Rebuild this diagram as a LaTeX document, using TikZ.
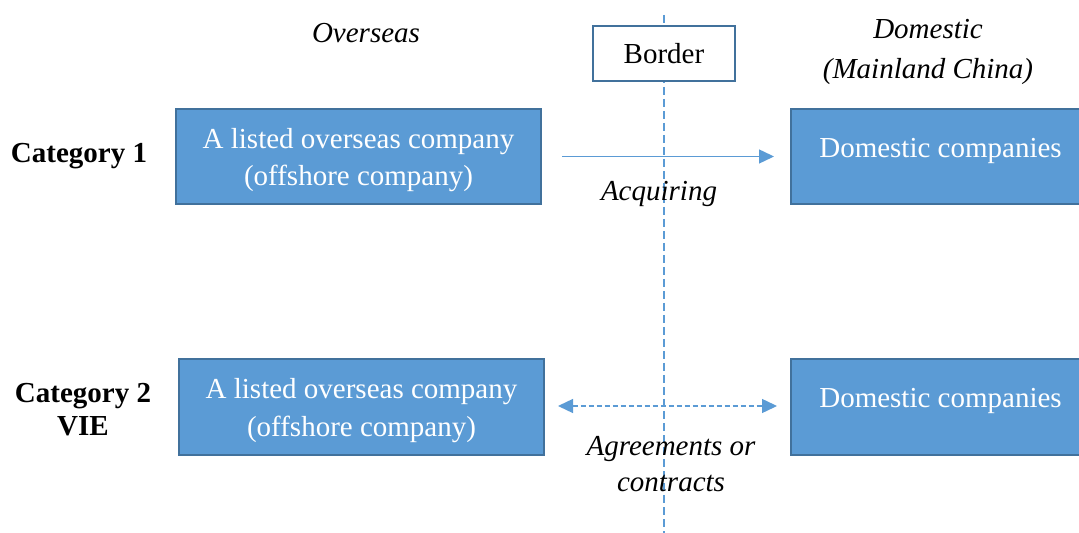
\documentclass[tikz,border=0pt]{standalone}
\usepackage{fontspec}
\setmainfont{Liberation Serif}
\usetikzlibrary{positioning, arrows.meta}
\definecolor{vieblue}{RGB}{91,155,213}
\definecolor{vieedge}{RGB}{65,113,156}
\tikzset{
    companybox/.style={rectangle, draw=vieedge, fill=vieblue, line width=1pt, text=white, align=center, font=\fontsize{14.5pt}{18.5pt}\selectfont, minimum width=182.5pt, minimum height=47.5pt, inner sep=0pt, text height=29pt, text depth=0pt},
    domesticbox/.style={companybox, minimum width=149.5pt, text height=10pt, text depth=9pt},
    borderbox/.style={rectangle, draw=vieedge, fill=white, line width=0.6pt, minimum width=71pt, minimum height=27.5pt, font=\fontsize{14.5pt}{18.5pt}\selectfont},
    catlabel/.style={font=\fontsize{14.5pt}{16.5pt}\selectfont\bfseries, align=center, inner sep=0pt},
    sidelabel/.style={font=\fontsize{14.5pt}{20pt}\selectfont\itshape, align=center, inner sep=0pt},
    arrlbl/.style={font=\fontsize{14.5pt}{18pt}\selectfont\itshape, align=center, inner sep=0pt},
    borderline/.style={vieblue, line width=0.7pt, dash pattern=on 4pt off 2pt},
    arr/.style={-{Triangle[length=7.5pt, width=7pt]}, vieblue, line width=0.7pt},
    arrboth/.style={{Triangle[length=7.5pt, width=7pt]}-{Triangle[length=7.5pt, width=7pt]}, vieblue, line width=0.7pt, dash pattern=on 2.5pt off 1.5pt}
}
\begin{document}
\begin{tikzpicture}[x=0.5pt, y=-0.5pt]
    \clip (0,0) rectangle (1079,533);
    % border line and box
    \coordinate (bordertop) at (664,15);
    \coordinate (borderbot) at (664,540);
    \draw[borderline] (bordertop) -- (borderbot);
    \node[borderbox] (border) at (664,53.5) {Border};
    % headings
    \node[sidelabel] (overseas) at (366,33) {Overseas};
    \node[sidelabel] (domestic) at (928,51.5) {Domestic\\(Mainland China)};
    % category 1
    \node[catlabel] (cat1) at (79,156) {Category 1};
    \node[companybox] (ovs1) at (358.5,156.5) {A listed overseas company\\(offshore company)};
    \node[domesticbox] (dom1) at (940.5,156.5) {Domestic companies};
    \draw[arr, shorten <=10pt, shorten >=8pt] (ovs1.east) -- (dom1.west);
    \node[arrlbl] (acq) at (659,194) {Acquiring};
    % category 2
    \node[catlabel] (cat2) at (83,410) {Category 2\\VIE};
    \node[companybox] (ovs2) at (361.5,407) {A listed overseas company\\(offshore company)};
    \node[domesticbox] (dom2) at (940.5,407) {Domestic companies};
    \draw[arrboth, shorten <=6.5pt, shorten >=6.5pt] ([yshift=0.5pt]ovs2.east) -- ([yshift=0.5pt]dom2.west);
    \node[arrlbl] (agree) at (671,464) {Agreements or\\contracts};
\end{tikzpicture}
\end{document}
